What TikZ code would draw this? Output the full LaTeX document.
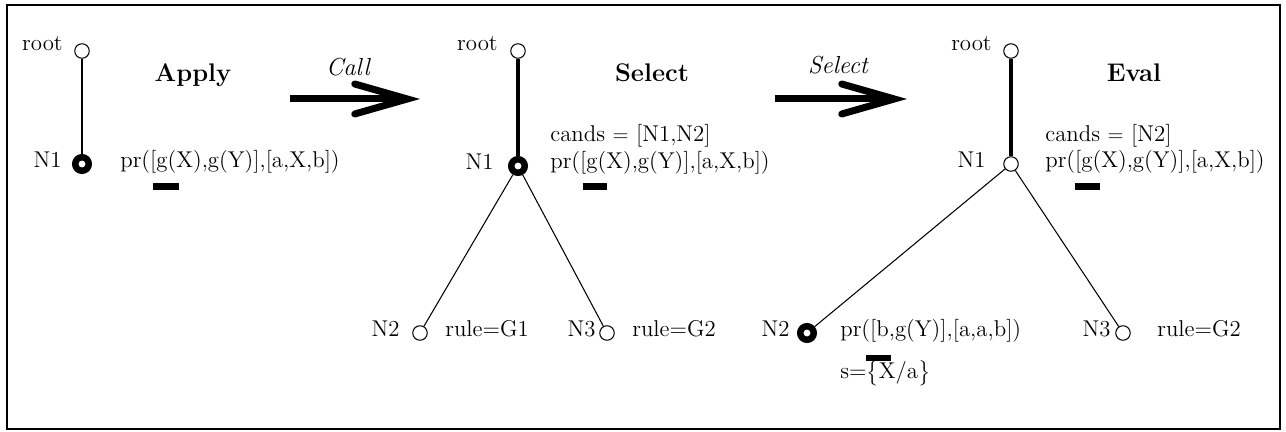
\documentclass[tikz,border=0pt]{standalone}
\usepackage{amsmath}
\usepackage{tikz}
\usetikzlibrary{arrows.meta, positioning}

\begin{document}
\begin{tikzpicture}[x=0.02cm, y=-0.02cm,
    txt/.style={inner sep=0pt, font=\fontsize{13}{15.5}\selectfont},
    stage/.style={inner sep=0pt, anchor=mid, font=\fontsize{14.5}{17}\bfseries},
    move/.style={inner sep=0pt, anchor=mid, font=\fontsize{14}{17}\itshape},
    leaf/.style={circle, draw, line width=0.6pt, inner sep=0pt, minimum size=0.29cm},
    cur/.style={circle, draw, line width=0.13cm, inner sep=0pt, minimum size=0.27cm},
    trans/.style={line width=0.14cm, -{Straight Barb[length=1.05cm, width=0.6cm, line cap=round]}},
    branch/.style={line width=0.6pt}]
  \useasboundingbox (0,0) rectangle (1286,432);

  % Frame
  \draw[line width=0.05cm] (7,5) rectangle (1280,429);

  % Stage 1: Apply
  \node[leaf] (p1root) at (82,51) {};
  \node[cur] (p1n1) at (82,164) {};
  \draw[line width=1.2pt] (p1root) -- (p1n1);
  \node[txt, anchor=mid east] (p1rootlbl) at (63,47) {root};
  \node[txt, anchor=mid east] (p1n1lbl) at (62,164) {N1};
  \node[stage] (p1title) at (193,78) {Apply};
  \node[txt, anchor=mid west] (p1goal) at (120,164) {pr([g(X),g(Y)],[a,X,b])};
  \fill (153,183) rectangle (179,190);

  % Call arrow
  \coordinate (a1s) at (290,99);
  \coordinate (a1e) at (420,99);
  \draw[trans] (a1s) -- (a1e);
  \node[move] (a1lbl) at (348,72) {Call};

  % Stage 2: Select
  \node[leaf] (p2root) at (518,51) {};
  \node[cur] (p2n1) at (518,166) {};
  \node[leaf] (p2n2) at (420,333) {};
  \node[leaf] (p2n3) at (607,333) {};
  \draw[line width=2.2pt] (p2root) -- (p2n1);
  \draw[branch] (p2n1) -- (p2n2);
  \draw[branch] (p2n1) -- (p2n3);
  \node[txt, anchor=mid east] (p2rootlbl) at (498,47) {root};
  \node[txt, anchor=mid east] (p2n1lbl) at (494,166) {N1};
  \node[stage] (p2title) at (652,78) {Select};
  \node[txt, anchor=mid west] (p2cands) at (550,138) {cands $=$ [N1,N2]};
  \node[txt, anchor=mid west] (p2goal) at (550,165) {pr([g(X),g(Y)],[a,X,b])};
  \fill (583,183) rectangle (607,190);
  \node[txt, anchor=mid east] (p2n2lbl) at (400,333) {N2};
  \node[txt, anchor=mid west] (p2n2rule) at (445,333) {rule=G1};
  \node[txt, anchor=mid east] (p2n3lbl) at (596,333) {N3};
  \node[txt, anchor=mid west] (p2n3rule) at (632,333) {rule=G2};

  % Select arrow
  \coordinate (a2s) at (775,99);
  \coordinate (a2e) at (907,99);
  \draw[trans] (a2s) -- (a2e);
  \node[move] (a2lbl) at (838,70) {Select};

  % Stage 3: Eval
  \node[leaf] (p3root) at (1011,51) {};
  \node[leaf] (p3n1) at (1011,164) {};
  \node[cur] (p3n2) at (807,333) {};
  \node[leaf] (p3n3) at (1123,333) {};
  \draw[line width=2.2pt] (p3root) -- (p3n1);
  \draw[branch] (p3n1) -- (p3n2);
  \draw[branch] (p3n1) -- (p3n3);
  \node[txt, anchor=mid east] (p3rootlbl) at (992,47) {root};
  \node[txt, anchor=mid east] (p3n1lbl) at (986,164) {N1};
  \node[stage] (p3title) at (1134,78) {Eval};
  \node[txt, anchor=mid west] (p3cands) at (1045,138) {cands $=$ [N2]};
  \node[txt, anchor=mid west] (p3goal) at (1045,164) {pr([g(X),g(Y)],[a,X,b])};
  \fill (1075,183) rectangle (1100,190);
  \node[txt, anchor=mid east] (p3n2lbl) at (790,333) {N2};
  \node[txt, anchor=mid west] (p3n2goal) at (840,333) {pr([b,g(Y)],[a,a,b])};
  \fill (866,355) rectangle (891,361);
  \node[txt, anchor=mid west] (p3subst) at (840,375) {s=$\bigl\{$X/a$\bigr\}$};
  \node[txt, anchor=mid east] (p3n3lbl) at (1111,333) {N3};
  \node[txt, anchor=mid west] (p3n3rule) at (1157,333) {rule=G2};
\end{tikzpicture}
\end{document}
